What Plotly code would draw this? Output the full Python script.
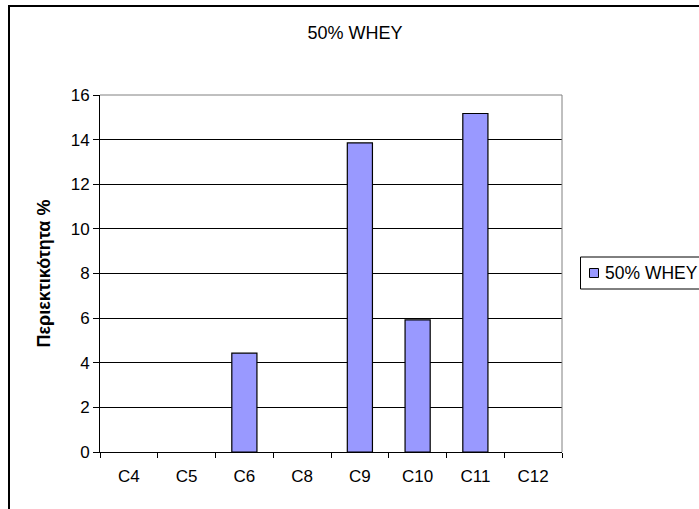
import plotly.graph_objects as go

# Fatty-acid chain lengths and their content (%) for the 50% whey sample
categories = ["C4", "C5", "C6", "C8", "C9", "C10", "C11", "C12"]
whey_50 = [0, 0, 4.43, 0, 13.85, 5.92, 15.17, 0]
series_name = "50% WHEY"
y_ticks = [0, 2, 4, 6, 8, 10, 12, 14, 16]

W, H = 699, 509
L, R, T, B = 100, 137, 95, 57
pw, ph = W - L - R, H - T - B

FONT = "Liberation Sans, Arial, sans-serif"
BAR_COLOR = "#9999FF"

fig = go.Figure()
fig.add_trace(go.Bar(
    x=categories,
    y=whey_50,
    name=series_name,
    marker=dict(
        color=BAR_COLOR,
        line=dict(color="black", width=[0 if v == 0 else 1.2 for v in whey_50]),
    ),
    showlegend=False,
))

def px_x(p):
    return (p - L) / pw

def px_y(p):
    return (H - B - p) / ph

shapes = [
    # chart frame
    dict(type="rect", xref="paper", yref="paper",
         x0=px_x(9), x1=px_x(730), y0=px_y(540), y1=px_y(6),
         line=dict(color="black", width=2), fillcolor="rgba(0,0,0,0)", layer="above"),
    # plot area border (top and right)
    dict(type="line", xref="paper", yref="paper", x0=0, x1=1, y0=1, y1=1,
         line=dict(color="#808080", width=1), layer="above"),
    dict(type="line", xref="paper", yref="paper", x0=1, x1=1, y0=0, y1=1,
         line=dict(color="#808080", width=1), layer="above"),
    # legend box and its swatch
    dict(type="rect", xref="paper", yref="paper",
         x0=px_x(580.5), x1=px_x(720), y0=px_y(289), y1=px_y(257),
         line=dict(color="black", width=1), fillcolor="white", layer="above"),
    dict(type="rect", xref="paper", yref="paper",
         x0=px_x(589.5), x1=px_x(598.5), y0=px_y(277.5), y1=px_y(268.5),
         line=dict(color="black", width=1), fillcolor=BAR_COLOR, layer="above"),
]

annotations = [
    dict(text=series_name, xref="paper", yref="paper",
         x=px_x(603), y=px_y(273), xanchor="left", yanchor="middle",
         showarrow=False, font=dict(family=FONT, size=17.5, color="black")),
]

fig.update_layout(
    width=W, height=H,
    margin=dict(l=L, r=R, t=T, b=B, autoexpand=False),
    paper_bgcolor="white",
    plot_bgcolor="white",
    font=dict(family=FONT, color="black", size=17),
    title=dict(text=series_name, x=355 / W, xanchor="center",
               y=1 - 33 / H, yanchor="middle",
               font=dict(family=FONT, size=18, color="black")),
    bargap=0.565,
    shapes=shapes,
    annotations=annotations,
    showlegend=False,
)

fig.update_xaxes(
    type="category",
    showline=True, linecolor="black", linewidth=1,
    ticks="outside", tickson="boundaries", ticklen=5, tickcolor="black",
    tickfont=dict(family=FONT, size=17, color="black"),
    ticklabelstandoff=9,
    showgrid=False, fixedrange=True,
)

fig.update_yaxes(
    range=[0, 16],
    tickvals=y_ticks,
    showline=True, linecolor="black", linewidth=1,
    ticks="outside", ticklen=6, tickcolor="black",
    tickfont=dict(family=FONT, size=17, color="black"),
    showgrid=True, gridcolor="black", gridwidth=1,
    zeroline=False,
    title=dict(text="Περιεκτικότητα %", standoff=15,
               font=dict(family=FONT, size=18, color="black", weight="bold")),
    fixedrange=True,
)

fig.write_html("out.html")
